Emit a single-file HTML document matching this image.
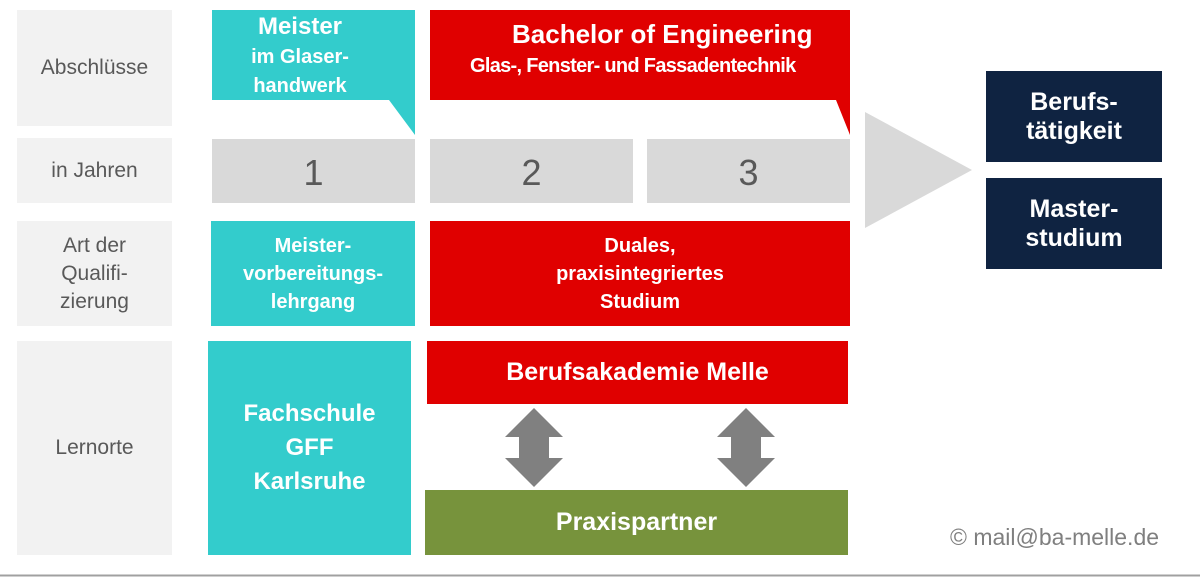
<!DOCTYPE html>
<html><head><meta charset="utf-8"><style>
body{margin:0;width:1200px;height:577px;background:#fff;position:relative;overflow:hidden;font-family:"Liberation Sans",sans-serif}
.b{position:absolute;display:flex;align-items:center;justify-content:center;text-align:center;box-sizing:border-box}
.l{background:#f2f2f2;color:#595959;font-size:21px;line-height:28px}
.t{background:#33cccc;color:#fff;font-weight:bold}
.r{background:#e00000;color:#fff;font-weight:bold}
.y{background:#d9d9d9;color:#595959;font-size:36px;padding-top:4px}
.n{background:#0f2341;color:#fff;font-weight:bold;font-size:25px;line-height:29px}
.w{position:absolute;color:#fff;font-weight:bold;white-space:nowrap}
</style></head><body>
<div class="b l" style="left:17px;top:10px;width:155px;height:116px">Abschlüsse</div>
<div class="b l" style="left:17px;top:138px;width:155px;height:65px">in Jahren</div>
<div class="b l" style="left:17px;top:221px;width:155px;height:105px">Art der<br>Qualifi-<br>zierung</div>
<div class="b l" style="left:17px;top:341px;width:155px;height:214px">Lernorte</div>
<svg style="position:absolute;left:0;top:0" width="1200" height="577">
<polygon points="212,10 415,10 415,135 389,100 212,100" fill="#33cccc"/>
<polygon points="430,10 850,10 850,135 836,100 430,100" fill="#e00000"/>
<polygon points="865,112 972,170 865,228" fill="#d9d9d9"/>
<polygon points="534,408 563,437 549,437 549,458 563,458 534,487 505,458 519,458 519,437 505,437" fill="#808080"/>
<polygon points="746,408 775,437 761,437 761,458 775,458 746,487 717,458 731,458 731,437 717,437" fill="#808080"/>
<line x1="0" y1="575.5" x2="1200" y2="575.5" stroke="#a0a0a0" stroke-width="2"/>
</svg>
<div class="b t" style="left:212px;top:12px;width:176px;height:88px;font-size:20px;line-height:29px;align-items:flex-start"><div><span style="font-size:24px">Meister</span><br>im Glaser-<br>handwerk</div></div>
<div class="w" style="left:512px;top:18px;font-size:26px;line-height:32px">Bachelor of Engineering</div>
<div class="w" style="left:470px;top:53px;font-size:20px;line-height:26px;letter-spacing:-0.7px">Glas-, Fenster- und Fassadentechnik</div>
<div class="b y" style="left:212px;top:139px;width:203px;height:64px">1</div>
<div class="b y" style="left:430px;top:139px;width:203px;height:64px">2</div>
<div class="b y" style="left:647px;top:139px;width:203px;height:64px">3</div>
<div class="b n" style="left:986px;top:71px;width:176px;height:91px">Berufs-<br>tätigkeit</div>
<div class="b n" style="left:986px;top:178px;width:176px;height:91px">Master-<br>studium</div>
<div class="b t" style="left:211px;top:221px;width:204px;height:105px;font-size:20px;line-height:28px">Meister-<br>vorbereitungs-<br>lehrgang</div>
<div class="b r" style="left:430px;top:221px;width:420px;height:105px;font-size:20px;line-height:28px">Duales,<br>praxisintegriertes<br>Studium</div>
<div class="b t" style="left:208px;top:341px;width:203px;height:214px;font-size:24px;line-height:34px">Fachschule<br>GFF<br>Karlsruhe</div>
<div class="b r" style="left:427px;top:341px;width:421px;height:63px;font-size:25px">Berufsakademie Melle</div>
<div class="b" style="left:425px;top:490px;width:423px;height:65px;background:#77933c;color:#fff;font-weight:bold;font-size:25px">Praxispartner</div>
<div style="position:absolute;left:950px;top:524px;font-size:23px;color:#7f7f7f">© mail@ba-melle.de</div>
</body></html>
